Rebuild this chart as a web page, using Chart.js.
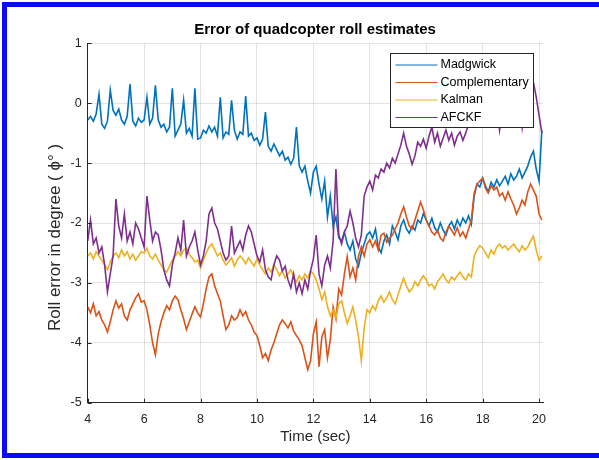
<!DOCTYPE html>
<html>
<head>
<meta charset="utf-8">
<script src="https://cdn.jsdelivr.net/npm/chart.js@4.4.1/dist/chart.umd.min.js"></script>
<style>
  html, body { margin: 0; padding: 0; background: #fff; overflow: hidden; }
  #marco { position: absolute; left: 2px; top: 2px; width: 640px; height: 446px;
    border-top: 5px solid #0a0af5; border-left: 5px solid #0a0af5; border-bottom: 5px solid #0a0af5;
    pointer-events: none; }
  #grafica { position: absolute; left: 0; top: 0; }
</style>
</head>
<body>
<canvas id="grafica" width="599" height="460"></canvas>
<div id="marco"></div>
<script>
// muestras cada 0.1 s, desde t = 4.0 hasta 20.1
var t0 = 4;
var dt = 0.1;

var madgwick = [
  -0.28, -0.22, -0.30, -0.18, 0.15, -0.35, -0.42, -0.30, 0.22, -0.12,
  -0.20, -0.10, -0.28, -0.35, -0.22, 0.32, -0.30, -0.38, -0.25, -0.32,
  -0.28, 0.10, -0.35, -0.25, 0.30, -0.28, -0.40, -0.35, -0.48, -0.40,
  0.25, -0.55, -0.45, -0.35, 0.05, -0.50, -0.42, -0.55, 0.25, -0.60,
  -0.58, -0.45, -0.50, -0.38, -0.48, -0.40, -0.55, 0.10, -0.58, -0.48,
  -0.52, 0.05, -0.45, -0.60, -0.48, -0.52, 0.12, -0.55, -0.50, -0.62,
  -0.58, -0.70, -0.60, -0.15, -0.72, -0.80, -0.68, -0.78, -0.88, -0.80,
  -0.95, -0.90, -1.02, -0.92, -0.40, -1.05, -1.15, -1.05, -1.30, -1.50,
  -1.15, -1.05, -1.35, -1.60, -1.30, -1.90, -1.55, -2.05, -1.90, -2.25,
  -2.30, -2.15, -2.35, -2.45, -2.30, -2.60, -2.72, -2.50, -2.35, -2.20,
  -2.15, -2.25, -2.10, -2.40, -2.50, -2.30, -2.20, -2.35, -2.05, -2.15,
  -2.28, -2.05, -1.95, -2.10, -2.17, -2.05, -2.12, -1.95, -2.00, -1.84,
  -1.95, -2.05, -1.92, -2.08, -2.15, -2.00, -2.12, -2.20, -2.05, -1.98,
  -2.10, -1.95, -2.05, -1.92, -2.00, -1.88, -2.02, -1.55, -1.35, -1.40,
  -1.25, -1.38, -1.48, -1.32, -1.40, -1.28, -1.38, -1.30, -1.22, -1.35,
  -1.18, -1.28, -1.22, -1.10, -1.25, -1.15, -1.05, -0.90, -0.80, -1.10,
  -1.30, -0.45
];

var complementary = [
  -3.40, -3.50, -3.35, -3.55, -3.48, -3.62, -3.70, -3.82, -3.65, -3.45,
  -3.30, -3.42, -3.35, -3.55, -3.62, -3.45, -3.35, -3.25, -3.18, -3.32,
  -3.30, -3.45, -3.70, -4.00, -4.20, -3.85, -3.65, -3.50, -3.38, -3.45,
  -3.30, -3.22, -3.28, -3.45, -3.60, -3.78, -3.65, -3.52, -3.40, -3.50,
  -3.57, -3.35, -3.10, -2.90, -2.85, -3.05, -3.18, -3.30, -3.55, -3.78,
  -3.70, -3.55, -3.62, -3.58, -3.45, -3.55, -3.48, -3.62, -3.70, -3.82,
  -3.88, -4.05, -4.25, -4.18, -4.30, -4.12, -4.00, -3.85, -3.70, -3.62,
  -3.68, -3.75, -3.65, -3.80, -3.88, -3.95, -4.05, -4.25, -4.45, -4.30,
  -3.85, -3.65, -4.40, -3.90, -3.78, -4.25, -3.95, -3.40, -3.60, -3.10,
  -3.20, -2.85, -2.56, -2.90, -2.75, -2.95, -2.55, -2.40, -2.55, -2.35,
  -2.28, -2.40, -2.30, -2.45, -2.20, -2.17, -2.32, -2.25, -2.20, -2.10,
  -2.00, -1.85, -1.73, -1.90, -2.05, -2.10, -1.95, -1.80, -1.65, -1.78,
  -1.95, -2.05, -2.15, -2.20, -2.12, -2.25, -2.30, -2.15, -2.05, -2.12,
  -2.20, -2.08, -2.22, -2.15, -2.25, -2.10, -1.95, -1.50, -1.35, -1.30,
  -1.25, -1.42, -1.50, -1.38, -1.45, -1.40, -1.55, -1.50, -1.62, -1.48,
  -1.60, -1.70, -1.85, -1.75, -1.62, -1.70, -1.48, -1.35, -1.45, -1.55,
  -1.85, -1.95
];

var kalman = [
  -2.55, -2.50, -2.60, -2.48, -2.55, -2.62, -2.70, -2.78, -2.65, -2.55,
  -2.50, -2.58, -2.45, -2.55, -2.48, -2.60, -2.52, -2.62, -2.55, -2.48,
  -2.50, -2.42, -2.55, -2.60, -2.52, -2.62, -2.70, -2.78, -2.82, -2.72,
  -2.62, -2.55, -2.48, -2.55, -2.45, -2.42, -2.52, -2.58, -2.65, -2.62,
  -2.75, -2.62, -2.50, -2.40, -2.35, -2.45, -2.55, -2.50, -2.62, -2.70,
  -2.65, -2.58, -2.72, -2.62, -2.55, -2.60, -2.68, -2.58, -2.65, -2.72,
  -2.60, -2.70, -2.78, -2.85, -2.75, -2.82, -2.70, -2.78, -2.88, -2.80,
  -2.92, -2.85, -2.78, -2.90, -2.98, -2.88, -2.95, -2.85, -2.92, -2.80,
  -2.85, -2.95, -3.10, -3.28, -3.15, -3.40, -3.55, -3.45, -3.58, -3.35,
  -3.30, -3.50, -3.68, -3.55, -3.40, -3.62, -3.90, -4.30, -3.75, -3.45,
  -3.50, -3.38, -3.45, -3.30, -3.22, -3.32, -3.25, -3.15, -3.28, -3.35,
  -3.20, -3.05, -2.92, -3.05, -3.15, -3.10, -2.98, -3.05, -2.95, -2.88,
  -2.95, -3.05, -3.02, -3.10, -2.98, -2.92, -2.85, -2.95, -3.00, -2.90,
  -2.95, -2.88, -2.82, -2.90, -2.95, -2.85, -2.90, -2.55, -2.45, -2.38,
  -2.42, -2.50, -2.58, -2.45, -2.52, -2.40, -2.35, -2.42, -2.38, -2.45,
  -2.40, -2.35, -2.42, -2.48, -2.38, -2.45, -2.40, -2.30, -2.22, -2.45,
  -2.62, -2.55
];

var afckf = [
  -2.30, -1.95, -2.35, -2.25, -2.50, -2.40, -2.70, -3.15, -2.85, -2.55,
  -1.60, -2.05, -2.25, -1.85, -2.30, -2.15, -2.35, -2.00, -2.10, -2.25,
  -2.40, -1.55, -1.95, -2.30, -2.15, -2.20, -2.45, -2.78, -2.95, -3.05,
  -2.70, -2.50, -2.25, -2.45, -1.95, -2.55, -2.40, -2.30, -2.15, -2.45,
  -2.70, -2.55, -2.30, -1.85, -1.75, -2.00, -2.10, -2.30, -2.50, -2.62,
  -2.55, -2.05, -2.50, -2.40, -2.30, -2.45, -2.20, -2.05, -2.15, -2.35,
  -2.55, -2.65, -2.45, -2.78, -2.90, -2.95, -2.70, -2.55, -2.62, -2.80,
  -2.72, -2.95, -3.08, -2.85, -3.15, -3.00, -3.18, -2.95, -3.10, -2.80,
  -2.60, -2.20, -2.85, -3.05, -2.70, -2.55, -2.75, -2.30, -1.10, -2.20,
  -2.35, -2.15, -2.05, -1.80, -2.00, -2.25, -2.40, -2.20, -1.55, -1.40,
  -1.30, -1.45, -1.20, -1.25, -1.10, -1.15, -1.00, -1.08, -0.92, -1.00,
  -0.85, -0.70, -0.50, -0.72, -0.85, -1.02, -0.88, -0.65, -0.72, -0.60,
  -0.75, -0.55, -0.40, -0.65, -0.50, -0.72, -0.58, -0.45, -0.62, -0.50,
  -0.70, -0.55, -0.48, -0.62, -0.50, -0.35, -0.20, -0.05, 0.05, -0.10,
  0.00, -0.15, -0.05, 0.10, -0.08, -0.05, -0.45, -0.10, 0.02, -0.12,
  0.05, -0.05, 0.10, -0.02, -0.40, 0.05, 0.15, 0.25, 0.35, 0.10,
  -0.20, -0.50
];

var nombres = ["Madgwick", "Complementary", "Kalman", "AFCKF"];
var colores = ["#0072bd", "#d95319", "#edb120", "#7e2f8e"];
var series = [madgwick, complementary, kalman, afckf];

var tiempos = [];
for (var i = 0; i < madgwick.length; i++) {
  tiempos.push(Math.round((t0 + i * dt) * 10) / 10);
}

var letra = "'Liberation Sans', Arial, sans-serif";
var gris = "#262626";
Chart.defaults.font.family = letra;

// marcas de tick hacia dentro, como en matlab
var marcas = {
  id: "marcas",
  afterDraw: function (chart) {
    var ctx = chart.ctx;
    var area = chart.chartArea;
    var x = chart.scales.x;
    var y = chart.scales.y;
    ctx.save();
    ctx.strokeStyle = gris;
    ctx.lineWidth = 1;
    ctx.beginPath();
    x.ticks.forEach(function (t) {
      var px = Math.round(x.getPixelForValue(t.value)) + 0.5;
      ctx.moveTo(px, area.bottom);
      ctx.lineTo(px, area.bottom - 4);
    });
    y.ticks.forEach(function (t) {
      var py = Math.round(y.getPixelForValue(t.value)) + 0.5;
      ctx.moveTo(area.left, py);
      ctx.lineTo(area.left + 4, py);
    });
    ctx.stroke();
    ctx.restore();
  }
};

// leyenda con caja blanca encima de las lineas
var leyenda = {
  id: "leyenda",
  afterDraw: function (chart) {
    var ctx = chart.ctx;
    var area = chart.chartArea;
    var ancho = 143;
    var alto = 74;
    var bx = Math.round(area.right - 10 - ancho) + 0.5;
    var by = Math.round(area.top + 10) + 0.5;
    ctx.save();
    ctx.fillStyle = "#fff";
    ctx.fillRect(bx, by, ancho, alto);
    ctx.strokeStyle = gris;
    ctx.lineWidth = 1;
    ctx.strokeRect(bx, by, ancho, alto);
    ctx.font = "12.5px " + letra;
    ctx.textBaseline = "middle";
    nombres.forEach(function (n, k) {
      var fy = by + 11.5 + k * 17.5;
      ctx.strokeStyle = colores[k];
      ctx.beginPath();
      ctx.moveTo(bx + 5, fy);
      ctx.lineTo(bx + 47, fy);
      ctx.stroke();
      ctx.fillStyle = "#000";
      ctx.fillText(n, bx + 50, fy);
    });
    ctx.restore();
  }
};

var datasets = series.map(function (s, k) {
  return {
    label: nombres[k],
    data: s,
    borderColor: colores[k],
    borderWidth: 1.6,
    pointRadius: 0,
    tension: 0,
    fill: false,
    order: 4 - k
  };
});

new Chart(document.getElementById("grafica"), {
  type: "line",
  data: { labels: tiempos, datasets: datasets },
  options: {
    responsive: false,
    animation: false,
    layout: { padding: { left: 31, right: 0, top: 0, bottom: 0 } },
    plugins: {
      legend: { display: false },
      tooltip: { enabled: false },
      title: {
        display: true,
        text: "Error of quadcopter roll estimates",
        color: "#000",
        font: { size: 15, weight: "bold" },
        padding: { top: 21, bottom: 4.3 }
      }
    },
    scales: {
      x: {
        type: "linear",
        min: 4,
        max: 20.14,
        ticks: { stepSize: 2, includeBounds: false, color: gris, font: { size: 12.5 }, padding: 9, maxRotation: 0 },
        grid: { color: "rgba(38,38,38,0.13)", drawTicks: false },
        border: { color: gris, width: 1 },
        title: { display: true, text: "Time (sec)", color: gris, font: { size: 15 }, padding: { top: 0, bottom: 14 } },
        afterFit: function (s) { s.height = 57.3; }
      },
      y: {
        min: -5,
        max: 1,
        ticks: { stepSize: 1, color: gris, font: { size: 12.5 }, padding: 6 },
        grid: { color: "rgba(38,38,38,0.13)", drawTicks: false },
        border: { color: gris, width: 1 },
        title: { display: true, text: "Roll error in degree ( ϕ° )\u2003\u2002\u2009", color: gris, font: { size: 17 }, padding: { top: 14, bottom: 0 } },
        afterFit: function (s) { s.width = 56.7; }
      },
      y2: {
        position: "right",
        display: true,
        ticks: { display: false },
        grid: { display: false, drawTicks: false },
        border: { display: false },
        afterFit: function (s) { s.width = 56; }
      }
    }
  },
  plugins: [marcas, leyenda]
});
</script>
</body>
</html>
